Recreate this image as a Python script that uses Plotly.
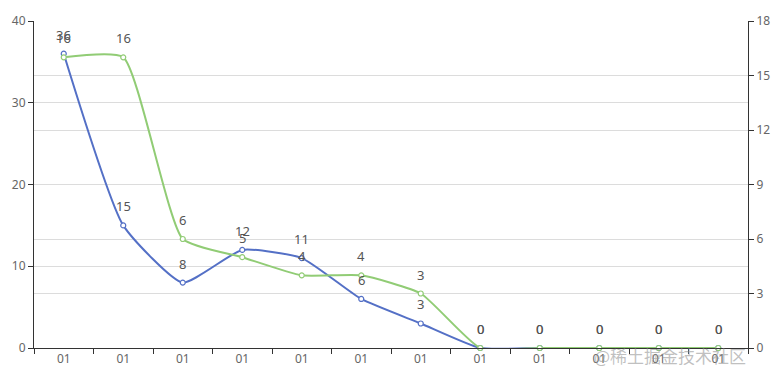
import plotly.graph_objects as go

categories = ["01"] * 12
series_left = [36, 15, 8, 12, 11, 6, 3, 0, 0, 0, 0, 0]
series_right = [16, 16, 6, 5, 4, 4, 3, 0, 0, 0, 0, 0]
left_ticks = [0, 10, 20, 30, 40]
right_ticks = [0, 3, 6, 9, 12, 15, 18]

x_idx = list(range(len(categories)))
BLUE = "#5470c6"
GREEN = "#91cc75"
FONT = "Noto Sans, Microsoft YaHei, sans-serif"
GRID = "#DCDCDC"

fig = go.Figure()
fig.add_trace(go.Scatter(
    x=x_idx, y=series_left, mode="lines+markers",
    line=dict(color=BLUE, width=2, shape="spline", smoothing=0.5),
    marker=dict(size=5, color="white", line=dict(color=BLUE, width=1.2)),
    cliponaxis=False, yaxis="y", showlegend=False, hoverinfo="skip",
))
fig.add_trace(go.Scatter(
    x=x_idx, y=series_right, mode="lines+markers",
    line=dict(color=GREEN, width=2, shape="spline", smoothing=0.5),
    marker=dict(size=5, color="white", line=dict(color=GREEN, width=1.2)),
    cliponaxis=False, yaxis="y2", showlegend=False, hoverinfo="skip",
))

for xi, v in zip(x_idx, series_left):
    fig.add_annotation(x=xi, y=v, xref="x", yref="y", text=str(v), showarrow=False,
                       yshift=19, font=dict(color="#555", size=13, family=FONT))
for xi, v in zip(x_idx, series_right):
    fig.add_annotation(x=xi, y=v, xref="x", yref="y2", text=str(v), showarrow=False,
                       yshift=19, font=dict(color="#555", size=13, family=FONT))

fig.update_layout(
    width=782, height=381,
    margin=dict(l=33, r=30, t=16, b=33),
    paper_bgcolor="white", plot_bgcolor="white",
    font=dict(family=FONT, size=12, color="#6E7079"),
    xaxis=dict(
        range=[-0.5, 11.5], tickmode="array", tickvals=x_idx, ticktext=categories,
        ticks="", showgrid=False, zeroline=False,
        showline=True, linecolor="#333", linewidth=1,
        minor=dict(tickmode="linear", tick0=-0.5, dtick=1, ticks="outside",
                   ticklen=5, tickcolor="#333", showgrid=False),
        tickfont=dict(size=12, color="#666"),
    ),
    yaxis=dict(
        range=[0, 40], tickmode="array", tickvals=left_ticks,
        showgrid=True, gridcolor=GRID, zeroline=False,
        showline=True, linecolor="#333", linewidth=1,
        ticks="outside", ticklen=5, tickcolor="#333",
        tickfont=dict(size=12, color="#666"),
    ),
    yaxis2=dict(
        range=[0, 18], tickmode="array", tickvals=right_ticks,
        overlaying="y", side="right",
        showgrid=True, gridcolor=GRID, zeroline=False,
        showline=True, linecolor="#333", linewidth=1,
        ticks="outside", ticklen=5, tickcolor="#333",
        tickfont=dict(size=12, color="#666"),
    ),
)

fig.add_annotation(
    text="@稀土掘金技术社区", xref="paper", yref="paper",
    x=1.0, y=-0.024, xanchor="right", yanchor="middle", showarrow=False,
    font=dict(family="Noto Sans CJK SC", size=17, color="rgba(150,150,150,0.6)"),
)

fig.write_html("out.html", config={"displayModeBar": False},
               post_script="document.body.style.margin='0';")
